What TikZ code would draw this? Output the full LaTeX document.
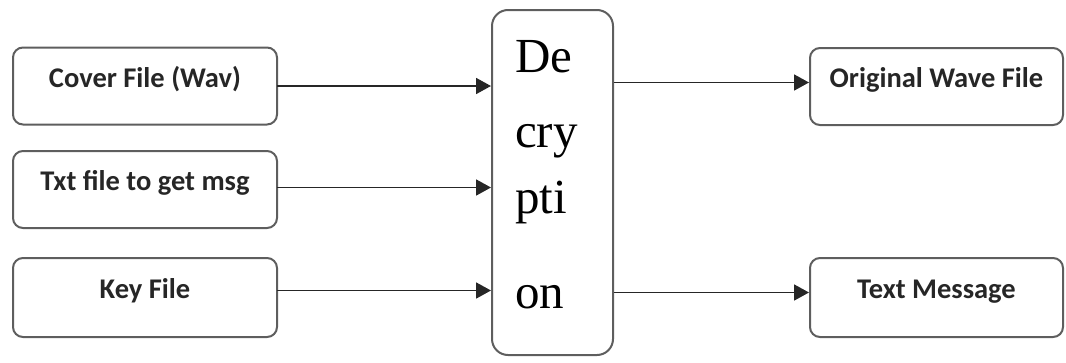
\documentclass[tikz,border=0pt]{standalone}
\usepackage{fontspec}
\setmainfont{Liberation Serif}
\newfontfamily\calibri{Carlito}
\usepackage{tikz}
\usetikzlibrary{arrows.meta,positioning,calc}
\definecolor{boxgray}{HTML}{5E5E5E}
\definecolor{inkgray}{HTML}{262626}

\begin{document}
\begin{tikzpicture}[x=1pt, y=-1pt,
    filebox/.style={draw=boxgray, line width=2pt, rounded corners=10pt,
        minimum width=264pt, minimum height=77pt, inner sep=0pt,
        text=inkgray, font=\calibri\bfseries\fontsize{28.5}{32}\selectfont,
        text height=20pt, text depth=18pt},
    cryptbox/.style={draw=boxgray, line width=2pt, rounded corners=16pt,
        minimum width=121pt, minimum height=345pt, inner sep=0pt},
    syl/.style={anchor=base west, inner sep=0pt, text=black,
        font=\fontsize{49}{56}\selectfont},
    flow/.style={-{Triangle[length=15pt,width=16pt]}, line width=1.8pt, draw=inkgray}]
    \useasboundingbox (0,0) rectangle (1066,362);

    % 输入文件
    \node[filebox] (cover) at (145,86) {Cover File (Wav)};
    \node[filebox] (txt) at (145,189.5) {Txt file to get msg};
    \node[filebox, minimum height=79pt] (key) at (145,297.5) {Key File};

    % 解密框
    \node[cryptbox] (dec) at (552.5,182.5) {};
    \foreach \s/\y [count=\i] in {De/72, cry/147, pti/213, on/308} {
        \node[syl] (syl\i) at (515,\y) {\s};
    }

    % 输出文件
    \node[filebox, minimum width=253pt] (orig) at (936.5,86.5) {Original Wave File};
    \node[filebox, minimum width=253pt, minimum height=79pt] (msg) at (936.5,297.5) {Text Message};

    % 箭头
    \draw[flow] ([xshift=-1pt]cover.east) -- (cover.east -| dec.west);
    \draw[flow] ([xshift=-1pt,yshift=2pt]txt.east) -- ([yshift=2pt]txt.east -| dec.west);
    \draw[flow] ([xshift=-1pt,yshift=7pt]key.east) -- ([yshift=7pt]key.east -| dec.west);
    \draw[flow] ([yshift=4pt]orig.west -| dec.east) -- ([yshift=4pt]orig.west);
    \draw[flow] ([yshift=5pt]msg.west -| dec.east) -- ([yshift=5pt]msg.west);
\end{tikzpicture}
\end{document}
